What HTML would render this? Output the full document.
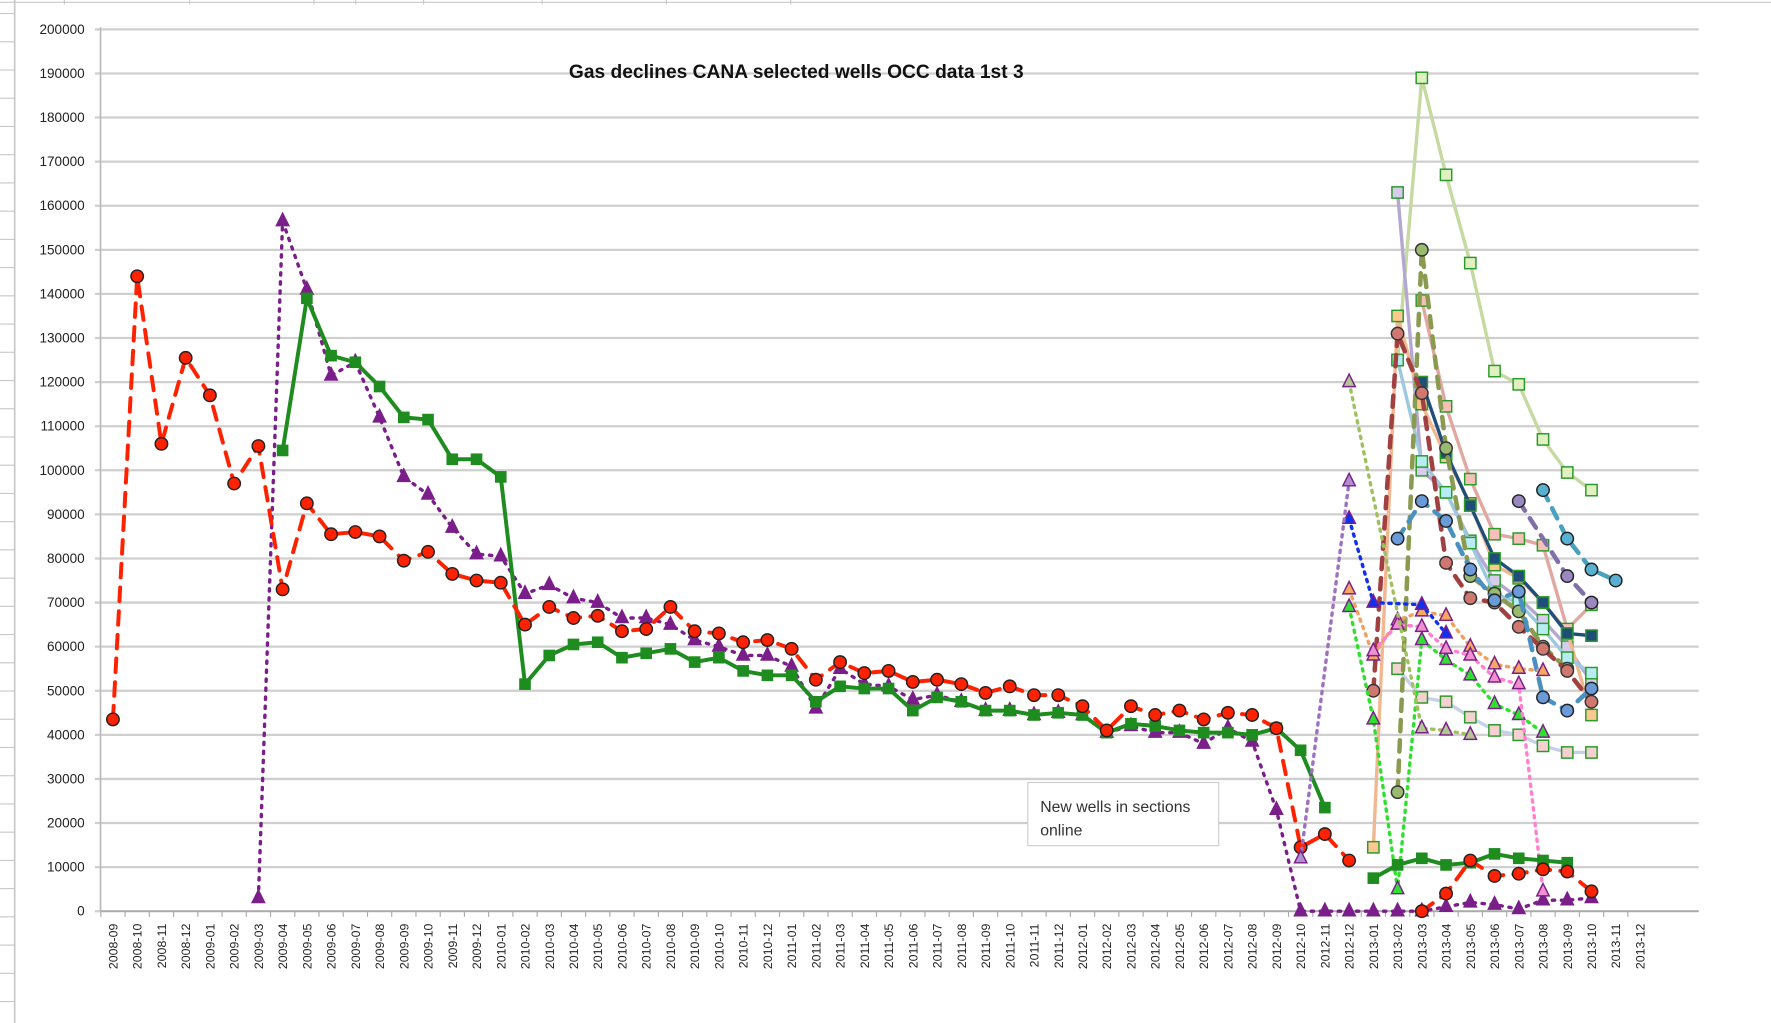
<!DOCTYPE html>
<html><head><meta charset="utf-8"><style>
html,body{margin:0;padding:0;background:#fff;overflow:hidden}
svg{display:block}
text{font-family:"Liberation Sans",sans-serif}
</style></head><body>
<svg id="s" xmlns="http://www.w3.org/2000/svg" width="1771" height="1023" viewBox="0 0 1568 906" preserveAspectRatio="none"></svg>
<script>
const S=document.getElementById('s');let h='';
const Y=v=>807-v/10000*39.05;
const mi=s=>{const[a,b]=s.split('-').map(Number);return (a-2008)*12+b-9;};
const X=s=>100+21.46*mi(s);
// spreadsheet frame
h+='<rect width="1568" height="906" fill="#fff"/>';
h+='<line x1="0" y1="2" x2="1568" y2="2" stroke="#c8c8c8"/>';
h+='<line x1="13" y1="0" x2="13" y2="906" stroke="#c8c8c8" stroke-width="1.5"/>';
for(let y=12;y<906;y+=25)h+=`<line x1="0" y1="${y}" x2="13" y2="${y}" stroke="#c8c8c8"/>`;
[57,168,278,315,375,480,590,700].forEach(x=>h+=`<line x1="${x}" y1="0" x2="${x}" y2="4" stroke="#c8c8c8"/>`);
// grid
for(let v=0;v<=200000;v+=10000){const y=Y(v);
h+=`<line x1="84" y1="${y}" x2="1504" y2="${y}" stroke="#cfcfcf" stroke-width="2"/>`;
h+=`<text x="75" y="${y+4}" font-size="12" text-anchor="end" fill="#222">${v}</text>`;}
h+=`<line x1="89" y1="24" x2="89" y2="807" stroke="#bbb" stroke-width="1.5"/>`;
h+=`<line x1="89" y1="807" x2="1504" y2="807" stroke="#aaa" stroke-width="1.5"/>`;
const labs=[];for(let i=0;i<64;i++){const y=2008+Math.floor((i+8)/12),m=(i+8)%12+1;labs.push(y+'-'+String(m).padStart(2,'0'));}
labs.forEach((l,i)=>{const x=100+21.46*i;
h+=`<line x1="${x-10.7}" y1="807" x2="${x-10.7}" y2="812" stroke="#aaa"/>`;
h+=`<text transform="translate(${x+4},818) rotate(-90)" font-size="11" text-anchor="end" fill="#222">${l}</text>`;});
h+=`<text x="705" y="69" font-size="17" font-weight="bold" text-anchor="middle" fill="#111">Gas declines CANA selected wells OCC data 1st 3</text>`;
h+=`<rect x="910" y="693" width="169" height="56" fill="#fff" stroke="#ccc"/>`;
h+=`<text x="921" y="719" font-size="14" fill="#333">New wells in sections</text><text x="921" y="740" font-size="14" fill="#333">online</text>`;
function mk(t,x,y,f,s,sz){sz=sz||5;
 if(t=='c')return `<circle cx="${x}" cy="${y}" r="${sz+0.5}" fill="${f}" stroke="${s}" stroke-width="1.3"/>`;
 if(t=='s')return `<rect x="${x-sz}" y="${y-sz}" width="${2*sz}" height="${2*sz}" fill="${f}" stroke="${s}" stroke-width="1.3"/>`;
 if(t=='t')return `<polygon points="${x},${y-sz-2} ${x-sz-0.5},${y+sz-1} ${x+sz+0.5},${y+sz-1}" fill="${f}" stroke="${s}" stroke-width="1.3"/>`;
 return '';}
function ser(o){const p=o.p.map(([m,v])=>[X(m),Y(v)]);
 h+=`<polyline points="${p.map(q=>q.join(',')).join(' ')}" fill="none" stroke="${o.c}" stroke-width="${o.w||3}" stroke-dasharray="${o.d||'none'}" stroke-linecap="round" stroke-linejoin="round"/>`;
 p.forEach(q=>h+=mk(o.m,q[0],q[1],o.f,o.s,o.z));}
const seq=(start,vals)=>{let i=mi(start);return vals.map(v=>{const y=2008+Math.floor((i+8)/12),m=(i+8)%12+1;i++;return [y+'-'+String(m).padStart(2,'0'),v];}).filter(q=>q[1]!=null);};
// cluster series (drawn first)
const cl=[
{c:'#c6d9a0',m:'s',f:'#e0f0c0',s:'#2a9a2a',p:seq('2013-02',[125000,189000,167000,147000,122500,119500,107000,99500,95500])},
{c:'#b3a8d0',m:'s',f:'#d8ccec',s:'#2a9a2a',p:seq('2013-02',[163000,100000,95000,84000,75000,71000,66000,60000,52000])},
{c:'#f0b890',m:'s',f:'#fcc890',s:'#2a9a2a',p:seq('2013-01',[14500,135000,115000,103000,92500,78500,75500,70000,63500,44500])},
{c:'#e0a8a0',m:'s',f:'#f4c0b8',s:'#2a9a2a',p:seq('2013-03',[138500,114500,98000,85500,84500,83000,64000,69500])},
{c:'#1f4e79',m:'s',f:'#1f4e79',s:'#2a9a2a',w:3,p:seq('2013-03',[120000,104000,92000,80000,76000,70000,63000,62500])},
{c:'#9cc8e0',m:'s',f:'#b8ecf4',s:'#2a9a2a',p:seq('2013-02',[125000,102000,95000,83500,72000,70000,64000,57500,54000])},
{c:'#c8d0e8',m:'s',f:'#f4d0d0',s:'#2a9a2a',p:seq('2013-02',[55000,48500,47500,44000,41000,40000,37500,36000,36000])},
{c:'#8a9a50',d:'10,8',w:4,m:'c',f:'#9aba70',s:'#333',p:seq('2013-02',[27000,150000,105000,76000,72000,68000,60000,55000])},
{c:'#a04040',d:'10,8',w:4,m:'c',f:'#d07870',s:'#333',p:seq('2013-01',[50000,131000,117500,79000,71000,70000,64500,59500,54500,47500])},
{c:'#4a90c0',d:'10,8',w:4,m:'c',f:'#6a9ad8',s:'#222',p:seq('2013-02',[84500,93000,88500,77500,70500,72500,48500,45500,50500])},
{c:'#4aa0c0',d:'10,8',w:4,m:'c',f:'#5ab0d0',s:'#222',p:seq('2013-08',[95500,84500,77500,75000])},
{c:'#8070a8',d:'10,8',w:4,m:'c',f:'#9a88c0',s:'#222',p:seq('2013-07',[93000,null,76000,70000])},
{c:'#f0a060',d:'2,5',w:3,m:'t',f:'#f4a860',s:'#7a1f8a',p:seq('2012-12',[73000,58000,66000,68000,67000,60000,56000,55000,54500])},
{c:'#30e030',d:'2,5',w:3,m:'t',f:'#30e030',s:'#7a1f8a',p:seq('2012-12',[69000,43500,5000,61500,57000,53500,47000,44500,40500])},
{c:'#ff80d0',d:'2,5',w:3,m:'t',f:'#f090d0',s:'#7a1f8a',p:seq('2013-01',[59000,65000,64500,59500,58000,53000,51500,4500])},
{c:'#1030f0',d:'2,5',w:3,m:'t',f:'#1030f0',s:'#7a1f8a',p:seq('2012-12',[89000,70000,null,69500,63000])},
{c:'#a0c060',d:'2,5',w:3,m:'t',f:'#b0c890',s:'#7a1f8a',p:seq('2012-12',[120000,null,null,41500,41000,40000])},
{c:'#a070c0',d:'2,5',w:3,m:'t',f:'#b090d0',s:'#7a1f8a',p:seq('2012-10',[12000,null,97500])},
];
// main series
const red={c:'#ff2200',d:'12,9',w:3.5,m:'c',f:'#ff2200',s:'#222',p:seq('2008-09',[43500,144000,106000,125500,117000,97000,105500,73000,92500,85500,86000,85000,79500,81500,76500,75000,74500,65000,69000,66500,67000,63500,64000,69000,63500,63000,61000,61500,59500,52500,56500,54000,54500,52000,52500,51500,49500,51000,49000,49000,46500,41000,46500,44500,45500,43500,45000,44500,41500,14500,17500,11500])};
const red2={c:'#ff2200',d:'12,9',w:3.5,m:'c',f:'#ff2200',s:'#222',p:seq('2013-03',[0,4000,11500,8000,8500,9500,9000,4500])};
const grn={c:'#1e8c1e',w:3.5,m:'s',f:'#1e8c1e',s:'#1e8c1e',z:4.5,p:seq('2009-04',[104500,139000,126000,124500,119000,112000,111500,102500,102500,98500,51500,58000,60500,61000,57500,58500,59500,56500,57500,54500,53500,53500,47500,51000,50500,50500,45500,48500,47500,45500,45500,44500,45000,44500,40500,42500,42000,41000,40500,40500,40000,41500,36500,23500])};
const grn2={c:'#1e8c1e',w:3.5,m:'s',f:'#1e8c1e',s:'#1e8c1e',z:4.5,p:seq('2013-01',[7500,10500,12000,10500,11000,13000,12000,11500,11000])};
const pur={c:'#7a1f8a',d:'2,6',w:3,m:'t',f:'#7a1f8a',s:'#7a1f8a',p:seq('2009-03',[3000,156500,141000,121500,124500,112000,98500,94500,87000,81000,80500,72000,74000,71000,70000,66500,66500,65000,61500,60000,58000,58000,55500,46000,55000,51500,51000,48000,49000,47500,45500,45500,44500,45000,44500,40500,42000,40500,40500,38000,41500,38500,23000,0,0,0,0,0,0,1000,2000,1500,500,2500,2500,3000])};
[pur,grn,red].forEach(ser);
cl.forEach(ser);
[grn2,red2].forEach(ser);
S.innerHTML=h;
</script>
</body></html>
